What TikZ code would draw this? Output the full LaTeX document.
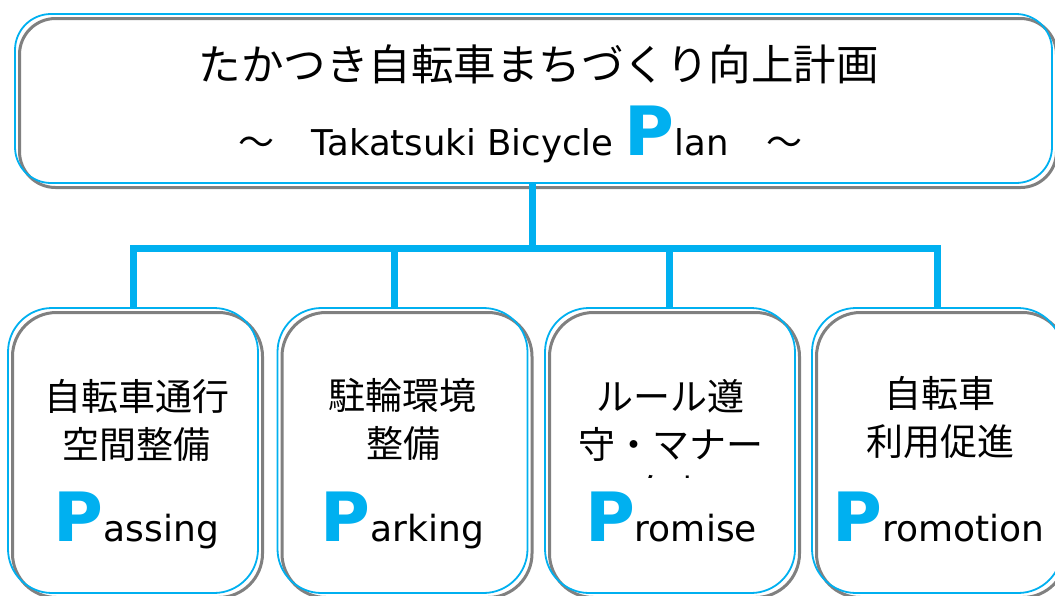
\documentclass[tikz,border=0pt]{standalone}
\usepackage{fontspec}
\setmainfont{DejaVu Sans}
\newfontfamily\jp{Noto Sans CJK JP}
\usetikzlibrary{backgrounds}
\definecolor{pblue}{HTML}{00B0F0}
\definecolor{shgray}{HTML}{808080}
\newcommand\PW[2][36]{{\fontsize{68}{68}\selectfont\bfseries\color{pblue}P}{\fontsize{#1}{36}\selectfont #2}}
\tikzset{
  boxline/.style={draw=pblue, line width=1.8pt, inner sep=0pt, outer sep=0pt},
  topbox/.style={boxline, rounded corners=36pt, minimum width=1037pt, minimum height=169pt},
  subbox/.style={boxline, rounded corners=44pt, minimum width=250pt, minimum height=285pt},
  shadowline/.style={draw=shgray, line width=3pt},
  conn/.style={draw=pblue, line width=7pt, line join=miter},
  jtitle/.style={font=\jp\fontsize{42.5}{46}\selectfont, inner sep=0pt},
  jsub/.style={font=\jp\fontsize{37}{40}\selectfont, inner sep=0pt},
  pword/.style={anchor=base, inner sep=0pt}
}
\begin{document}
\begin{tikzpicture}[x=1pt,y=-1pt]
\path[use as bounding box] (0,0) rectangle (1055,595);
\clip (0,0) rectangle (1055,595);

% boxes
\node[topbox] (top) at (533.5,98.5) {};
\node[subbox] (b1) at (133,450.5) {};
\node[subbox] (b2) at (402.5,450.5) {};
\node[subbox] (b3) at (670,450.5) {};
\node[subbox] (b4) at (937,450.5) {};

% background and shadows
\begin{scope}[on background layer]
\fill[white] (0,0) rectangle (1055,595);
\foreach \b/\r in {top/36pt,b1/44pt,b2/44pt,b3/44pt,b4/44pt}{
  \draw[shadowline, rounded corners=\r] ([shift={(4.5,4.5)}]\b.north west) rectangle ([shift={(4.5,4.5)}]\b.south east);
}
\end{scope}

% connectors
\coordinate (jt) at (532,248.5);
\coordinate (j1) at (133.5,248.5);
\coordinate (j2) at (394.5,248.5);
\coordinate (j3) at (669.5,248.5);
\coordinate (j4) at (937.5,248.5);
\draw[conn] (jt |- top.south) -- (jt);
\draw[conn] (j1 |- b1.north) -- (j1) -- (j4) -- (j4 |- b4.north);
\draw[conn] (j2) -- (j2 |- b2.north);
\draw[conn] (j3) -- (j3 |- b3.north);

% top texts
\node[jtitle] (title) at (538.5,64) {たかつき自転車まちづくり向上計画};
\node[anchor=base west, inner sep=0pt] (subtitle) at (238.5,155)
  {{\jp\fontsize{36}{36}\selectfont ～}\hspace{37pt}{\fontsize{35.5}{36}\selectfont Takatsuki Bicycle }\PW[35.5]{lan}\hspace{38pt}{\jp\fontsize{36}{36}\selectfont ～}};

% box 1
\node[jsub] (t1a) at (137,396) {自転車通行};
\node[jsub] (t1b) at (136,444) {空間整備};
\node[pword] (p1) at (136.5,541) {\PW{assing}};
% box 2
\node[jsub] (t2a) at (402.5,395) {駐輪環境};
\node[jsub] (t2b) at (403,443.5) {整備};
\node[pword] (p2) at (402.5,541) {\PW{arking}};
% box 3
\node[jsub] (t3a) at (670,396) {ルール遵};
\node[jsub] (t3b) at (671,444.5) {守・マナー};
\begin{scope}
\clip (560,460) rectangle (780,477);
\node[jsub] (t3c) at (670,492.5) {向上};
\end{scope}
\node[pword] (p3) at (671,541) {\PW{romise}};
% box 4
\node[jsub] (t4a) at (940,393) {自転車};
\node[jsub] (t4b) at (940,442) {利用促進};
\node[pword] (p4) at (938.5,541) {\PW{romotion}};
\end{tikzpicture}
\end{document}
